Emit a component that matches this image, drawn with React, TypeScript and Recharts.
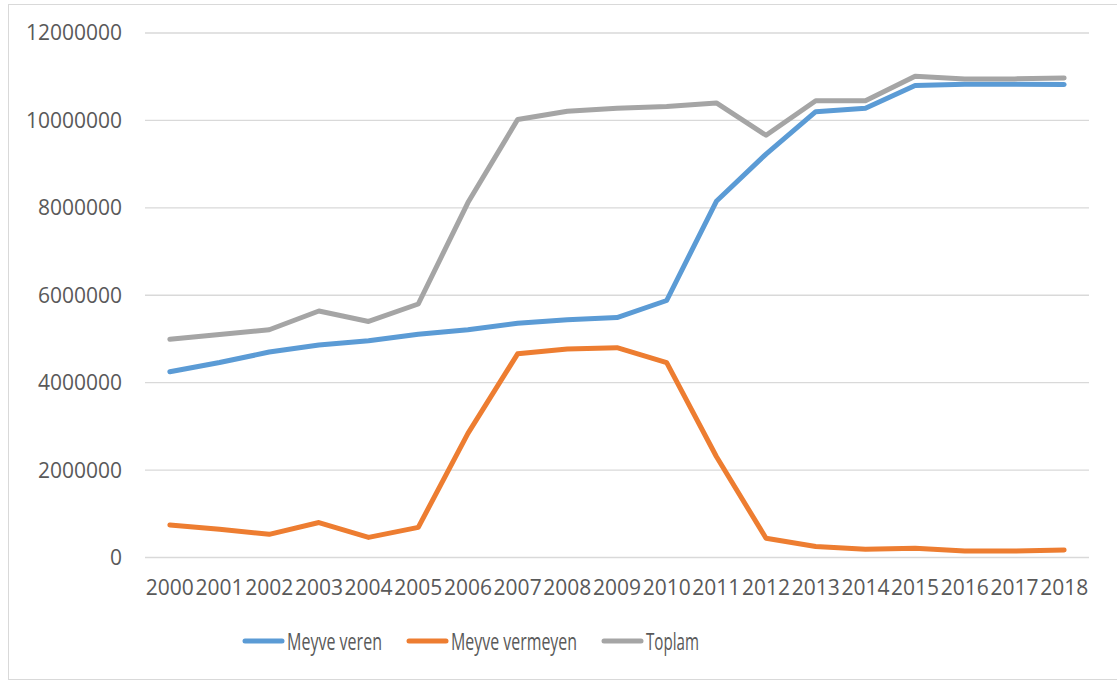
import React from "react";
import { LineChart, Line, XAxis, YAxis, CartesianGrid } from "recharts";

const years = [
  "2000", "2001", "2002", "2003", "2004", "2005", "2006", "2007", "2008", "2009",
  "2010", "2011", "2012", "2013", "2014", "2015", "2016", "2017", "2018",
];

const meyveVeren = [
  4250000, 4460000, 4700000, 4860000, 4960000, 5110000, 5210000, 5360000, 5440000, 5490000,
  5880000, 8150000, 9230000, 10200000, 10280000, 10800000, 10830000, 10830000, 10820000,
];

const meyveVermeyen = [
  745000, 645000, 530000, 800000, 460000, 690000, 2840000, 4660000, 4770000, 4800000,
  4460000, 2310000, 440000, 250000, 190000, 210000, 150000, 150000, 170000,
];

const toplam = [
  4995000, 5100000, 5210000, 5640000, 5400000, 5800000, 8120000, 10020000, 10210000, 10280000,
  10320000, 10400000, 9660000, 10450000, 10450000, 11010000, 10950000, 10950000, 10970000,
];

const yTicks = [0, 2000000, 4000000, 6000000, 8000000, 10000000, 12000000];

const series = [
  { key: "veren", name: "Meyve veren", color: "#5B9BD5", textWidth: 95 },
  { key: "vermeyen", name: "Meyve vermeyen", color: "#ED7D31", textWidth: 126 },
  { key: "toplam", name: "Toplam", color: "#A5A5A5", textWidth: 53 },
];

const data = years.map((year, i) => ({
  year,
  veren: meyveVeren[i],
  vermeyen: meyveVermeyen[i],
  toplam: toplam[i],
}));

const FONT = "'Open Sans', 'DejaVu Sans', sans-serif";
const TEXT = "#595959";

// legend drawn in one svg so the squeezed labels never touch an edge
function ChartLegend() {
  const swatch = 41;
  const gap = 25;
  let x = 2;
  const items = series.map((s) => {
    const item = { ...s, x };
    x += swatch + 3 + s.textWidth + gap;
    return item;
  });
  return (
    <svg
      width={620}
      height={40}
      style={{ position: "absolute", left: 241, top: 621, fontFamily: FONT }}
    >
      {items.map((s) => (
        <g key={s.key}>
          <line
            x1={s.x + 2}
            x2={s.x + swatch - 2}
            y1={20}
            y2={20}
            stroke={s.color}
            strokeWidth={5}
            strokeLinecap="round"
          />
          <text
            x={s.x + swatch + 3}
            y={28.5}
            fontSize={23.5}
            fill={TEXT}
            textLength={s.textWidth}
            lengthAdjust="spacingAndGlyphs"
          >
            {s.name}
          </text>
        </g>
      ))}
    </svg>
  );
}

export default function App() {
  return (
    <div
      style={{
        position: "absolute",
        left: 0,
        top: 0,
        width: 1117,
        height: 680,
        overflow: "hidden",
        background: "#fff",
      }}
    >
      <div
        style={{
          position: "absolute",
          left: 8,
          top: 4,
          width: 1130,
          height: 674,
          border: "1px solid #d9d9d9",
        }}
      />
      <div style={{ position: "absolute", left: 0, top: 0 }}>
        <LineChart
          width={1117}
          height={680}
          data={data}
          margin={{ top: 33, right: 28, left: 0, bottom: 82.5 }}
        >
          <CartesianGrid vertical={false} stroke="#d9d9d9" strokeWidth={1.4} />
          <XAxis
            dataKey="year"
            height={40}
            axisLine={false}
            tickLine={false}
            tickSize={0}
            tickMargin={23}
            interval={0}
            padding={{ left: 24.85, right: 24.85 }}
            tick={{ fill: TEXT, fontSize: 21, fontFamily: FONT }}
          />
          <YAxis
            width={145}
            domain={[0, 12000000]}
            ticks={yTicks}
            axisLine={false}
            tickLine={false}
            tickSize={0}
            tickMargin={23}
            tick={{ fill: TEXT, fontSize: 21, fontFamily: FONT }}
          />
          {series.map((s) => (
            <Line
              key={s.key}
              type="linear"
              dataKey={s.key}
              name={s.name}
              stroke={s.color}
              strokeWidth={5}
              strokeLinecap="round"
              strokeLinejoin="round"
              dot={false}
              activeDot={false}
              isAnimationActive={false}
            />
          ))}
        </LineChart>
      </div>
      <ChartLegend />
    </div>
  );
}
